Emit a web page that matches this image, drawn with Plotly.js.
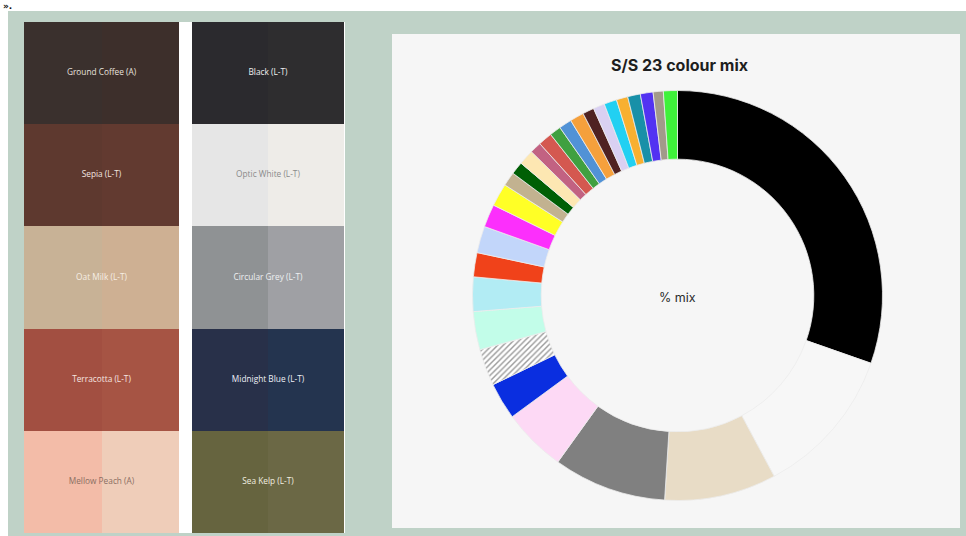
<!DOCTYPE html>
<html>
<head>
<meta charset="utf-8">
<script src="https://cdn.plot.ly/plotly-3.0.1.min.js"></script>
<style>
html,body{margin:0;padding:0;background:#fff;}
#chart{width:966px;height:536px;}
</style>
</head>
<body>
<div id="chart"></div>
<script>
// ---- Donut data (S/S 23 colour mix) ----
const sliceNames = [
  "Black", "Optic White", "Beige", "Grey", "Pink", "Royal Blue", "Stripe",
  "Mint", "Light Aqua", "Red Orange", "Periwinkle", "Magenta", "Yellow",
  "Tan", "Dark Green", "Cream", "Rose", "Red", "Green", "Steel Blue",
  "Orange", "Dark Brown", "Lavender", "Cyan", "Amber", "Teal", "Violet",
  "Taupe", "Bright Green"
];
const sliceValues = [
  30.3, 11.8, 8.8, 8.9, 5.0, 2.9, 2.9,
  3.0, 2.7, 1.9, 2.1, 1.8, 1.8,
  1.1, 1.0, 1.2, 0.9, 1.1, 0.9, 1.0,
  1.1, 0.9, 0.9, 1.0, 0.9, 1.0, 1.0,
  0.8, 1.1
];
const sliceColors = [
  "#000000", "#f7f7f7", "#e8dcc6", "#808080", "#fdd9f5", "#0a2ee0", "#ffffff",
  "#c2fde9", "#b2ecf4", "#f0421a", "#c2d6fa", "#fc2ffc", "#ffff26",
  "#c2b290", "#005f05", "#fde7b2", "#c26282", "#d45850", "#40a040", "#5192d6",
  "#f5a03c", "#4f2222", "#d9d0f2", "#22d0f2", "#f8b030", "#1890a8", "#5232f2",
  "#a29a8a", "#3ff23a"
];
const slicePatterns = [
  "", "", "", "", "", "", "/",
  "", "", "", "", "", "",
  "", "", "", "", "", "", "",
  "", "", "", "", "", "", "",
  "", ""
];

// ---- Palette swatches ----
const leftNames = ["Ground Coffee (A)", "Sepia (L-T)", "Oat Milk (L-T)", "Terracotta (L-T)", "Mellow Peach (A)"];
const leftColorsA = ["#3a302d", "#5e392f", "#c8b296", "#a24f41", "#f3bca8"];
const leftColorsB = ["#3d2f2b", "#623a30", "#ceb093", "#a65444", "#efcdb9"];
const leftText = ["#e8e2de", "#f3e6e0", "#f6eee4", "#f6e6e0", "#8a6e62"];

const rightNames = ["Black (L-T)", "Optic White (L-T)", "Circular Grey (L-T)", "Midnight Blue (L-T)", "Sea Kelp (L-T)"];
const rightColorsA = ["#2b2a2e", "#e6e6e6", "#8f9294", "#283049", "#66643f"];
const rightColorsB = ["#2e2d2f", "#eeece8", "#9fa0a4", "#24344f", "#6b6845"];
const rightText = ["#f0f0f0", "#8a8a8a", "#eef0f2", "#eef0f6", "#f2f0e0"];

const halves = [0, 1];
const rowIndex = [0, 1, 2, 3, 4];

const W = 966, H = 536;
const px = v => v / W;
const py = v => 1 - v / H;

const traces = [];

function addColumn(names, colA, colB, txtCols, xa, ya) {
  names.forEach((n, i) => {
    traces.push({
      type: "bar", x: halves, y: [1, 1], width: [1, 1],
      marker: {color: [colA[i], colB[i]], line: {width: 0}},
      xaxis: xa, yaxis: ya, hoverinfo: "skip", showlegend: false, name: n
    });
  });
  traces.push({
    type: "scatter", mode: "text",
    x: rowIndex.map(() => 0.5),
    y: rowIndex.map(r => r + 0.5),
    text: names,
    textfont: {family: "Open Sans, sans-serif", size: 8.3, color: txtCols},
    xaxis: xa, yaxis: ya, hoverinfo: "skip", showlegend: false
  });
}
addColumn(leftNames, leftColorsA, leftColorsB, leftText, "x", "y");
addColumn(rightNames, rightColorsA, rightColorsB, rightText, "x2", "y2");

traces.push({
  type: "pie",
  labels: sliceNames,
  values: sliceValues,
  hole: 0.665,
  sort: false,
  direction: "clockwise",
  rotation: 0,
  textinfo: "none",
  showlegend: false,
  marker: {
    colors: sliceColors,
    line: {color: "#ececec", width: 0.8},
    pattern: {shape: slicePatterns, fgcolor: "#9a9a9a", bgcolor: "#ffffff", size: 4, solidity: 0.35}
  },
  domain: {x: [px(472.5), px(882.5)], y: [py(500.5), py(90.5)]}
});

const axCommon = {showgrid: false, zeroline: false, showticklabels: false, ticks: "", fixedrange: true};

const layout = {
  width: W, height: H,
  margin: {l: 0, r: 0, t: 0, b: 0},
  paper_bgcolor: "#ffffff",
  plot_bgcolor: "rgba(0,0,0,0)",
  barmode: "stack",
  bargap: 0,
  xaxis: Object.assign({domain: [px(24), px(179)], range: [-0.5, 1.5]}, axCommon),
  yaxis: Object.assign({domain: [py(533), py(22)], range: [5, 0]}, axCommon),
  xaxis2: Object.assign({domain: [px(192), px(344)], range: [-0.5, 1.5], anchor: "y2"}, axCommon),
  yaxis2: Object.assign({domain: [py(533), py(22)], range: [5, 0], anchor: "x2"}, axCommon),
  shapes: [
    {type: "rect", xref: "paper", yref: "paper", x0: px(8), x1: 1, y0: 0, y1: py(11),
     fillcolor: "#bfd2c7", line: {width: 0}, layer: "below"},
    {type: "rect", xref: "paper", yref: "paper", x0: px(24), x1: px(345), y0: py(533), y1: py(22),
     fillcolor: "#ffffff", line: {width: 0}, layer: "below"},
    {type: "rect", xref: "paper", yref: "paper", x0: px(392), x1: px(960), y0: py(528), y1: py(34),
     fillcolor: "#f6f6f6", line: {width: 0}, layer: "below"}
  ],
  annotations: [
    {text: "<b>S/S 23 colour mix</b>", xref: "paper", yref: "paper", x: px(679), y: py(65),
     xanchor: "center", yanchor: "middle",
     showarrow: false, font: {family: "Inter, sans-serif", size: 16, color: "#1e1e1e"}},
    {text: "% mix", xref: "paper", yref: "paper", x: px(677), y: py(297),
     xanchor: "center", yanchor: "middle",
     showarrow: false, font: {family: "Inter, sans-serif", size: 12.5, color: "#2a2a2a"}},
    {text: "<b>».</b>", xref: "paper", yref: "paper", x: px(1), y: py(-1), xanchor: "left", yanchor: "top",
     showarrow: false, font: {family: "DejaVu Sans, sans-serif", size: 9, color: "#111111"}}
  ]
};

Plotly.newPlot("chart", traces, layout, {displayModeBar: false, staticPlot: true});
</script>
</body>
</html>
